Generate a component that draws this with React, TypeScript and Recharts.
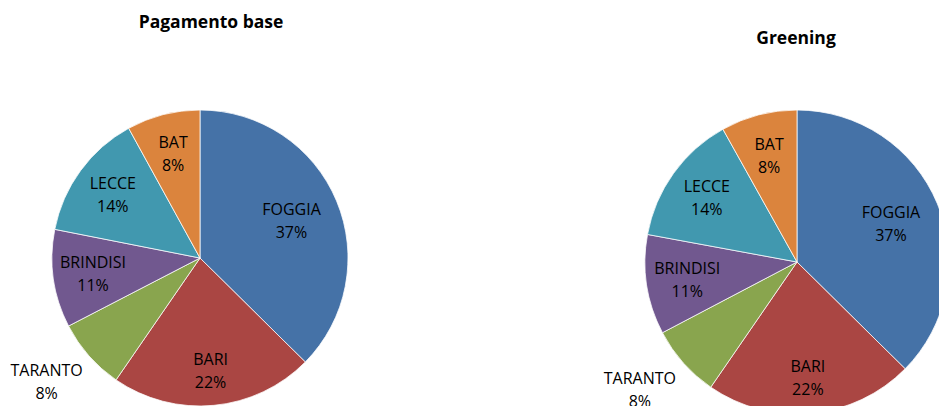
import { PieChart, Pie, Cell } from 'recharts'

// Provinces, clockwise from 12 o'clock
const provinces = ['FOGGIA', 'BARI', 'TARANTO', 'BRINDISI', 'LECCE', 'BAT']
const pagamentoBase = [37.4, 22.2, 7.8, 10.7, 13.9, 8.0]
const greening = [37.4, 22.2, 7.7, 10.6, 14.0, 8.1]

const COLORS: Record<string, string> = {
  FOGGIA: '#4572A7',
  BARI: '#AA4643',
  TARANTO: '#89A54E',
  BRINDISI: '#71588F',
  LECCE: '#4198AF',
  BAT: '#DB843D'
}

// label distance as a fraction of the outer radius, and small angle nudges (deg)
const LABEL_RADIUS: Record<string, number> = { FOGGIA: 0.67, BARI: 0.76, TARANTO: 1.33 }
const LABEL_NUDGE: Record<string, number> = { TARANTO: -2.6 }

const FONT = '"Open Sans", sans-serif'
const RAD = Math.PI / 180

const toRows = (values: number[]) => provinces.map((name, i) => ({ name, value: values[i] }))

function renderLabel(props: any) {
  const { cx, cy, midAngle, outerRadius, percent, name } = props
  const r = outerRadius * (LABEL_RADIUS[name] ?? 0.73)
  const a = midAngle + (LABEL_NUDGE[name] ?? 0)
  const x = cx + r * Math.cos(-a * RAD)
  const y = cy + r * Math.sin(-a * RAD)
  return (
    <text x={x} y={y} textAnchor="middle" fill="#000" fontSize={16} fontFamily={FONT}>
      <tspan x={x} dy={-5}>{name}</tspan>
      <tspan x={x} dy={23}>{`${Math.round(percent * 100)}%`}</tspan>
    </text>
  )
}

export default function App() {
  const left = toRows(pagamentoBase)
  const right = toRows(greening)
  return (
    <div style={{ position: 'absolute', left: 0, top: 0, width: 939, height: 406, overflow: 'hidden', background: '#fff', fontFamily: FONT }}>
      <div style={{ position: 'absolute', left: 0, width: 422, top: 9, textAlign: 'center', fontWeight: 700, fontSize: 17.5 }}>
        Pagamento base
      </div>
      <div style={{ position: 'absolute', left: 696, width: 200, top: 25, textAlign: 'center', fontWeight: 700, fontSize: 17.5 }}>
        Greening
      </div>
      <PieChart width={939} height={406} margin={{ top: 0, right: 0, bottom: 0, left: 0 }}>
        <Pie
          data={left}
          dataKey="value"
          nameKey="name"
          cx={200}
          cy={258}
          outerRadius={148}
          startAngle={90}
          endAngle={-270}
          stroke="#fff"
          strokeWidth={0.75}
          label={renderLabel}
          labelLine={false}
          isAnimationActive={false}
        >
          {left.map((d) => (
            <Cell key={d.name} fill={COLORS[d.name]} />
          ))}
        </Pie>
        <Pie
          data={right}
          dataKey="value"
          nameKey="name"
          cx={797}
          cy={262}
          outerRadius={152}
          startAngle={90}
          endAngle={-270}
          stroke="#fff"
          strokeWidth={0.75}
          label={renderLabel}
          labelLine={false}
          isAnimationActive={false}
        >
          {right.map((d) => (
            <Cell key={d.name} fill={COLORS[d.name]} />
          ))}
        </Pie>
      </PieChart>
    </div>
  )
}
